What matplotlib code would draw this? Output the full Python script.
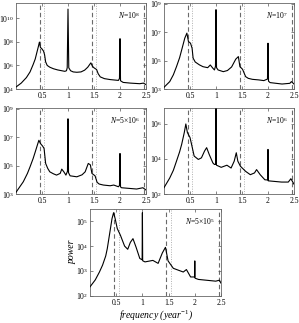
import matplotlib
matplotlib.use("Agg")
import matplotlib.pyplot as plt
from matplotlib.ticker import FixedLocator, FixedFormatter

plt.rcParams['font.family'] = ['Liberation Serif', 'DejaVu Serif']
plt.rcParams['mathtext.fontset'] = 'custom'
plt.rcParams['mathtext.rm'] = 'Liberation Serif'
plt.rcParams['mathtext.it'] = 'Liberation Serif:italic'
plt.rcParams['mathtext.bf'] = 'Liberation Serif:bold'

# ---- data (frequency in 1/year, log10 power) ----
f1 = [0.0, 0.1, 0.2, 0.27, 0.33, 0.37, 0.4, 0.43, 0.45, 0.47, 0.5, 0.53, 0.55, 0.57, 0.6, 0.65, 0.72, 0.8,
      0.88, 0.94, 0.97, 0.985, 1.0, 1.015, 1.05, 1.1, 1.17, 1.25, 1.32, 1.38, 1.42, 1.44, 1.47, 1.5, 1.55,
      1.58, 1.62, 1.7, 1.81, 1.9, 1.97, 1.99, 2.0, 2.01, 2.06, 2.2, 2.38, 2.45, 2.5]
p1 = [4.17, 4.5, 4.97, 5.45, 6.08, 6.55, 7.08, 7.6, 7.98, 7.53, 7.4, 7.21, 6.9, 6.3, 6.0, 5.85, 5.72, 5.62,
      5.55, 5.5, 5.55, 5.8, 10.78, 5.8, 5.55, 5.45, 5.42, 5.45, 5.6, 5.85, 6.1, 6.22, 5.93, 5.8, 5.65,
      5.3, 5.03, 4.88, 4.8, 4.76, 4.73, 4.9, 8.27, 4.7, 4.56, 4.5, 4.45, 4.5, 4.37]

f2 = [0.0, 0.11, 0.18, 0.24, 0.3, 0.34, 0.4, 0.44, 0.47, 0.51, 0.54, 0.56, 0.6, 0.68, 0.75, 0.84, 0.89,
      0.94, 0.97, 0.99, 1.0, 1.01, 1.04, 1.14, 1.22, 1.3, 1.38, 1.43, 1.46, 1.51, 1.57, 1.62, 1.7, 1.82,
      1.92, 1.99, 2.0, 2.01, 2.04, 2.27, 2.42, 2.45, 2.5]
p2 = [3.12, 3.52, 4.0, 4.57, 5.2, 5.75, 6.58, 6.93, 6.34, 6.22, 5.87, 5.17, 4.9, 4.7, 4.57, 4.5, 4.69,
      4.46, 4.34, 4.6, 8.58, 4.5, 4.34, 4.22, 4.3, 4.55, 5.1, 5.28, 4.57, 4.39, 3.87, 3.75, 3.68, 3.64,
      3.59, 3.7, 6.22, 3.55, 3.45, 3.35, 3.4, 3.52, 3.35]

f3 = [0.0, 0.14, 0.22, 0.27, 0.33, 0.37, 0.42, 0.44, 0.47, 0.51, 0.54, 0.57, 0.61, 0.65, 0.72, 0.78,
      0.85, 0.88, 0.92, 0.96, 0.99, 1.0, 1.01, 1.04, 1.17, 1.27, 1.33, 1.39, 1.43, 1.46, 1.52, 1.56, 1.6,
      1.68, 1.81, 1.88, 1.97, 1.99, 2.0, 2.01, 2.03, 2.32, 2.44, 2.5]
p3 = [3.12, 3.86, 4.45, 4.91, 5.5, 5.96, 6.55, 6.78, 6.55, 6.38, 6.2, 5.15, 4.8, 4.56, 4.42, 4.33,
      4.45, 4.75, 4.56, 4.33, 4.6, 8.29, 4.5, 4.28, 4.21, 4.35, 4.56, 5.15, 5.05, 4.45, 4.28, 3.82, 3.7,
      3.63, 3.58, 3.63, 3.51, 3.6, 5.85, 3.5, 3.44, 3.35, 3.44, 3.28]

f4 = [0.0, 0.11, 0.18, 0.24, 0.3, 0.34, 0.39, 0.42, 0.45, 0.5, 0.53, 0.58, 0.66, 0.72, 0.78, 0.82, 0.87,
      0.94, 0.97, 0.995, 1.0, 1.005, 1.01, 1.1, 1.21, 1.29, 1.35, 1.39, 1.42, 1.47, 1.57, 1.66, 1.74, 1.78,
      1.85, 1.94, 1.995, 2.0, 2.005, 2.26, 2.39, 2.44, 2.5]
p4 = [2.36, 2.91, 3.35, 3.87, 4.4, 4.83, 5.5, 5.99, 5.5, 5.22, 4.83, 4.16, 3.97, 4.06, 4.45, 4.64, 4.25,
      3.77, 3.68, 3.7, 6.86, 3.7, 3.64, 3.52, 3.64, 3.48, 3.87, 4.35, 3.87, 3.58, 3.29, 3.1, 3.2, 3.39,
      3.1, 2.81, 2.8, 4.54, 2.75, 2.68, 2.68, 2.87, 2.56]

f5 = [0.0, 0.1, 0.18, 0.24, 0.3, 0.33, 0.38, 0.42, 0.45, 0.48, 0.52, 0.58, 0.66, 0.72, 0.77, 0.82, 0.88,
      0.95, 0.99, 0.995, 1.0, 1.005, 1.01, 1.05, 1.2, 1.3, 1.38, 1.44, 1.49, 1.59, 1.78, 1.84, 1.92,
      1.995, 2.0, 2.005, 2.07, 2.4, 2.47, 2.5]
p5 = [2.35, 2.63, 2.95, 3.23, 3.6, 3.9, 4.57, 5.11, 5.35, 5.11, 4.71, 4.44, 4.0, 3.87, 4.15, 4.3, 3.95,
      3.5, 3.45, 3.45, 5.35, 3.42, 3.4, 3.36, 3.42, 3.3, 3.72, 3.95, 3.4, 3.1, 2.95, 3.05, 2.75, 2.75,
      3.4, 2.7, 2.65, 2.58, 2.62, 2.5]

labels = [r'$N\!=\!\mathit{10}^{\mathit{8}}$', r'$N\!=\!\mathit{10}^{\mathit{7}}$',
          r'$N\!=\!\mathit{5}{\times}\mathit{10}^{\mathit{6}}$', r'$N\!=\!\mathit{10}^{\mathit{6}}$',
          r'$N\!=\!\mathit{5}{\times}\mathit{10}^{\mathit{5}}$']
ytick_exp = [[4, 6, 8, 10], [3, 5, 7, 9], [3, 5, 7, 9], [2, 4, 6], [2, 3, 4, 5]]
ylims = [(4, 11.3), (3, 9.05), (3, 9.05), (2, 6.9), (2, 5.5)]
xticks = [0.5, 1, 1.5, 2, 2.5]
xticklabels = ['0.5', '1', '1.5', '2', '2.5']
dashed_f = [0.455, 1.455, 2.455]
dotted_f = [0.545, 1.545]

freqs = [f1, f2, f3, f4, f5]
powers = [p1, p2, p3, p4, p5]

W, H = 299, 323
fig = plt.figure(figsize=(W / 100, H / 100), dpi=100)
boxes = [(16, 3, 146, 89), (164, 3, 294, 89), (16, 108, 146, 194), (164, 108, 294, 194), (90, 209, 221, 295.5)]

for i in range(5):
    l, t, r, b = boxes[i]
    ax = fig.add_axes([l / W, 1 - b / H, (r - l) / W, (b - t) / H])
    ax.set_yscale('log')
    ax.set_xlim(0, 2.5)
    ax.set_ylim(10 ** ylims[i][0], 10 ** ylims[i][1])
    for xv in dashed_f:
        ax.axvline(xv, color='#6a6a6a', lw=0.8, ls=(0, (4, 2.5)), zorder=1)
    for xv in dotted_f:
        ax.axvline(xv, color='#b0b0b0', lw=0.7, ls=(0, (1, 1.5)), zorder=1)
    ax.plot(freqs[i], [10 ** v for v in powers[i]], color='black', lw=0.8, zorder=3)
    ax.xaxis.set_major_locator(FixedLocator(xticks))
    ax.xaxis.set_major_formatter(FixedFormatter(xticklabels))
    ax.yaxis.set_major_locator(FixedLocator([10.0 ** e for e in ytick_exp[i]]))
    ax.yaxis.set_major_formatter(FixedFormatter([r'$10^{%d}$' % e for e in ytick_exp[i]]))
    ax.yaxis.set_minor_locator(FixedLocator([]))
    ax.tick_params(which='both', direction='in', length=2, width=0.5, labelsize=5.5,
                   top=True, right=True, color='#555555')
    ax.tick_params(axis='x', pad=2.5)
    ax.tick_params(axis='y', pad=1.5)
    for s in ax.spines.values():
        s.set_linewidth(0.6)
        s.set_color('#666666')
    ax.text(0.955, 0.86, labels[i], transform=ax.transAxes, ha='right', va='center', fontsize=5.5)
    if i == 4:
        ax.set_xlabel('frequency (year$^{-1}$)', fontsize=7, style='italic', labelpad=1)
        ax.set_ylabel('power', fontsize=7, style='italic', labelpad=-1)

fig.savefig('out.png', dpi=100)
